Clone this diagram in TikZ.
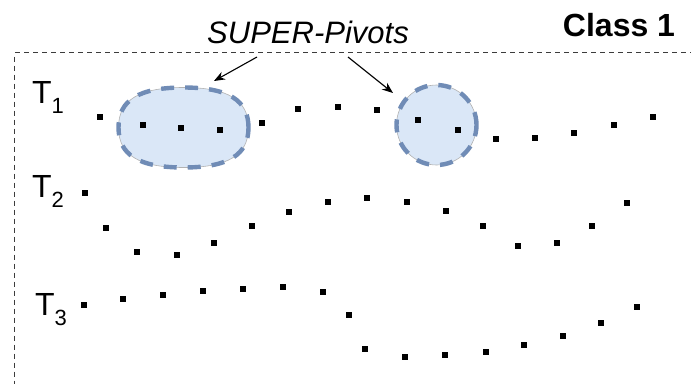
\documentclass[tikz,border=0pt]{standalone}
\usepackage{fontspec}
\setmainfont{Liberation Sans}
\usetikzlibrary{arrows.meta,shapes.geometric}
\definecolor{pivfill}{RGB}{218,231,247}
\definecolor{pivedge}{RGB}{112,140,182}
\definecolor{boxline}{RGB}{60,60,60}
\tikzset{
  dot/.style={rectangle,fill=black,minimum size=5.5pt,inner sep=0pt},
  pivot/.style={draw=pivedge,line width=4.4pt,dash pattern=on 13pt off 11pt},
  pivrim/.style={fill=pivfill,draw=black!30,line width=0.6pt},
  callout/.style={line width=1.1pt,-{Stealth[length=11pt,width=8.5pt]}},
  tlabel/.style={anchor=base west,inner sep=0pt,font=\fontsize{32}{32}\selectfont},
  classbox/.style={draw=boxline,line width=1.2pt,dash pattern=on 5pt off 4pt}
}
\newcommand{\trajlabel}[1]{T\raisebox{-10pt}{\fontsize{22}{22}\selectfont #1}}
\begin{document}
\begin{tikzpicture}[x=1pt,y=-1pt]
\useasboundingbox (0,0) rectangle (691,383);
% class region
\node[classbox,rectangle,anchor=north west,minimum width=700pt,minimum height=360pt,inner sep=0pt] (cls) at (14,52) {};
% first super-pivot: a squarish oval
\node[ellipse,inner sep=0pt,minimum width=130pt,minimum height=80pt] (sp1) at (183.5,127.5) {};
\begin{scope}[shift={(sp1.center)}]
  \foreach \sty in {pivrim,pivot}
    \path[\sty] (65,0) .. controls (65,-27.5) and (44.5,-40) .. (0,-40)
      .. controls (-44.5,-40) and (-65,-27.5) .. (-65,0)
      .. controls (-65,27.5) and (-44.5,40) .. (0,40)
      .. controls (44.5,40) and (65,27.5) .. (65,0) -- cycle;
\end{scope}
% second super-pivot: a circle
\node[pivrim,circle,inner sep=0pt,minimum size=80pt] (sp2) at (436.5,125) {};
\node[pivot,circle,inner sep=0pt,minimum size=80pt] (sp2edge) at (sp2.center) {};
% captions
\node[inner sep=0pt,font=\fontsize{31}{31}\selectfont\itshape] (cap) at (308,32) {SUPER-Pivots};
\node[inner sep=0pt,font=\fontsize{32}{32}\selectfont\bfseries] (cname) at (619,25) {Class 1};
% trajectory labels
\node[tlabel] (t1) at (32,103) {\trajlabel{1}};
\node[tlabel] (t2) at (32,197) {\trajlabel{2}};
\node[tlabel] (t3) at (35,315) {\trajlabel{3}};
% trajectory T1
\foreach \p [count=\i] in {(100,117),(143,125),(181,128),(220,130),(262,123),(298,109),(338,107),(377,110),(418,120),(458,130),(496,139),(535,138),(574,133),(614,125),(653,117)}
  \node[dot] (a\i) at \p {};
% trajectory T2
\foreach \p [count=\i] in {(85,193),(106,228),(137,252),(177,255),(214,243),(252,226),(289,212),(328,202),(367,198),(407,202),(446,211),(483,226),(518,246),(557,243),(592,226),(627,203)}
  \node[dot] (b\i) at \p {};
% trajectory T3
\foreach \p [count=\i] in {(84,305),(123,299),(163,295),(203,291),(243,289),(283,287),(323,292),(349,315),(365,349),(405,357),(445,355),(486,352),(524,345),(563,336),(601,323),(637,307)}
  \node[dot] (c\i) at \p {};
% callout arrows
\coordinate (ar1s) at (257,57);
\coordinate (ar1e) at (214,81);
\coordinate (ar2s) at (348,57);
\coordinate (ar2e) at (393,93);
\draw[callout] (ar1s) -- (ar1e);
\draw[callout] (ar2s) -- (ar2e);
\end{tikzpicture}
\end{document}
